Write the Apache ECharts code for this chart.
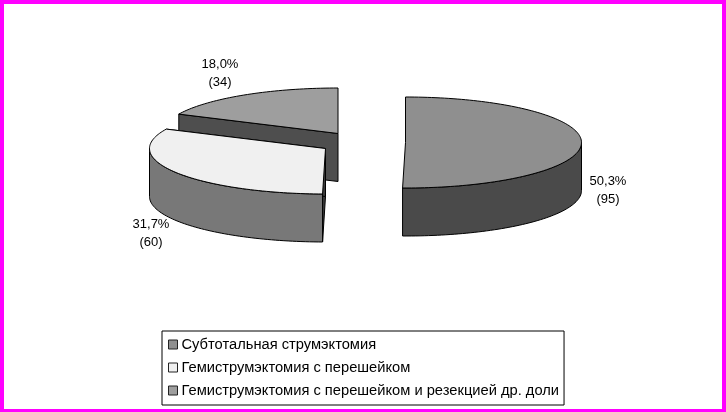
<!DOCTYPE html>
<html><head><meta charset="utf-8">
<style>html,body{margin:0;padding:0;background:#fff}#c{width:726px;height:412px}</style>
<script src="https://cdn.jsdelivr.net/npm/echarts@6/dist/echarts.min.js"></script>
</head><body><div id="c"></div>
<script>
const categories = ['Субтотальная струмэктомия','Гемиструмэктомия с перешейком','Гемиструмэктомия с перешейком и резекцией др. доли'];
const counts = [95, 60, 34];
const percentLabels = ['50,3%','31,7%','18,0%'];
const topColors = ['#8f8f8f','#f0f0f0','#9e9e9e'];
const wallColors = ['#4a4a4a','#787878','#4e4e4e'];
const cutColors = ['#4a4a4a','#3c3c3c','#4e4e4e'];
// exploded slice centres, ellipse radii, depth, label anchors
const centres = [[405.5,142.5],[325.5,148.5],[338,133.5]];
const labelAt = [[608,190],[151,233],[220,73]];
const RX = 176, RY = 45.5, DEPTH = 48;
const total = counts.reduce((a,b)=>a+b,0);
const chart = echarts.init(document.getElementById('c'));
function pt(c,a,dz){return [c[0]+RX*Math.sin(a), c[1]-RY*Math.cos(a)+(dz||0)];}
function arc(c,a0,a1,dz){const n=Math.max(8,Math.ceil(Math.abs(a1-a0)*40)),o=[];for(let i=0;i<=n;i++)o.push(pt(c,a0+(a1-a0)*i/n,dz));return o;}
function makeRender(idx){
  return function(params, api){
    const before = counts.slice(0,idx).reduce((a,b)=>a+b,0);
    const a0 = before/total*2*Math.PI, a1 = (before+api.value(0))/total*2*Math.PI;
    const c = centres[idx], line={stroke:'#000',lineWidth:1};
    const kids=[];
    const face=(points,fill)=>kids.push({type:'polygon',shape:{points},style:Object.assign({fill},line)});
    const cut=(a)=>{const p=pt(c,a);face([c,p,[p[0],p[1]+DEPTH],[c[0],c[1]+DEPTH]],cutColors[idx]);};
    if (a0>Math.PI/2 && a0<Math.PI*1.5) cut(a0);
    if (a1>Math.PI*1.5 && a1<2*Math.PI-1e-6) cut(a1);
    if (a1>=2*Math.PI-1e-6) cut(a0);
    // outer wall: visible part lies between 90° and 270°
    const w0=Math.max(a0,Math.PI/2), w1=Math.min(a1,Math.PI*1.5);
    if(w1>w0){
      const topArc=arc(c,w0,w1,0), botArc=arc(c,w0,w1,DEPTH).reverse();
      face(topArc.concat(botArc),wallColors[idx]);
    }
    // top
    face([c].concat(arc(c,a0,a1,0)),topColors[idx]);
    const l=labelAt[idx];
    kids.push({type:'text',style:{x:l[0],y:l[1],text:percentLabels[idx]+'\n('+api.value(0)+')',align:'center',verticalAlign:'middle',
      fill:'#000',font:'13px "Liberation Sans"',lineHeight:18}});
    return {type:'group',children:kids};
  };
}
chart.setOption({
  animation:false,
  backgroundColor:'#fff',
  graphic:[{type:'rect',silent:true,z:-1,shape:{x:2,y:2,width:722,height:409},style:{fill:'none',stroke:'#ff00ff',lineWidth:4}}],
  legend:{
    orient:'vertical',left:162,top:331,selectedMode:false,
    data:categories.map((name,i)=>({name,itemStyle:{color:topColors[i],borderColor:'#222',borderWidth:1}})),
    itemWidth:9,itemHeight:9,itemGap:8,padding:[6,5,7,6],
    borderColor:'#000',borderWidth:1,backgroundColor:'#fff',
    textStyle:{color:'#000',fontFamily:'Liberation Sans',fontSize:14.7,lineHeight:15,padding:[0,0,0,-1]},
    icon:'rect'
  },
  series:categories.map((name,i)=>({
    type:'custom',name,coordinateSystem:'none',
    data:[[counts[i]]],
    renderItem:makeRender(i),
    z:i===2?1:(i===1?2:3),
    itemStyle:{color:topColors[i],borderColor:'#000',borderWidth:1},
    silent:true
  }))
});
</script></body></html>
